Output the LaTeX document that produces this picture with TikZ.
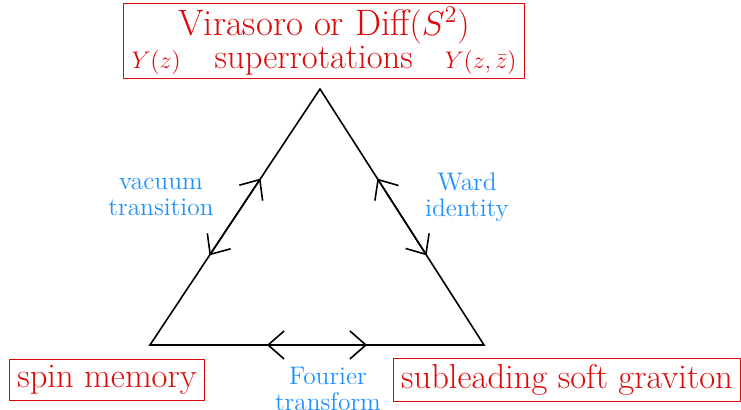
\documentclass[tikz,border=0pt]{standalone}
\usepackage{amsmath}
\usetikzlibrary{arrows.meta,calc}
\definecolor{memred}{RGB}{220,10,10}
\definecolor{linkblue}{RGB}{30,144,255}
\tikzset{
  redbox/.style={draw=memred,thin,text=memred,font=\fontsize{17.3}{13.5}\selectfont,
    inner xsep=4pt,inner ysep=3pt,align=center},
  linklabel/.style={text=linkblue,font=\fontsize{12.7}{13}\selectfont,align=center},
}
\newcommand{\smallY}[1]{{\fontsize{11.8}{13}\selectfont$#1$}}
\begin{document}
\begin{tikzpicture}[x=0.5pt,y=0.5pt,>={Straight Barb[length=8pt,width=14pt]}]
  \useasboundingbox (0,0) rectangle (741,410);
  % vertici del triangolo
  \coordinate (T) at (320,321);
  \coordinate (L) at (150,65);
  \coordinate (R) at (484,65);
  \draw[thick] (L) -- (T) -- (R) -- cycle;
  % frecce doppie su ogni lato
  \foreach \a/\b in {L/T,R/T,L/R}{
    \coordinate (m) at ($(\a)!0.5!(\b)$);
    \draw[thick,->] (m) -- ($(\a)!0.65!(\b)$);
    \draw[thick,->] (m) -- ($(\a)!0.35!(\b)$);
  }
  \node[linklabel] (vac) at (161,213) {vacuum\\transition};
  \node[linklabel] (ward) at (467,213) {Ward\\identity};
  \node[linklabel] (four) at (328,21) {Fourier\\transform};
  \node[redbox] (spin) at (107,30) {spin memory};
  \node[redbox] (sub) at (567,30) {subleading soft graviton};
  \node[redbox,inner ysep=2pt] (vir) at (324,369)
    {{\fontsize{18.4}{13.5}\selectfont Virasoro or Diff$(S^2)$}\\
     \smallY{Y(z)}\hspace{17pt}superrotations\hspace{16pt}\smallY{Y(z,\bar z)}};
\end{tikzpicture}
\end{document}
